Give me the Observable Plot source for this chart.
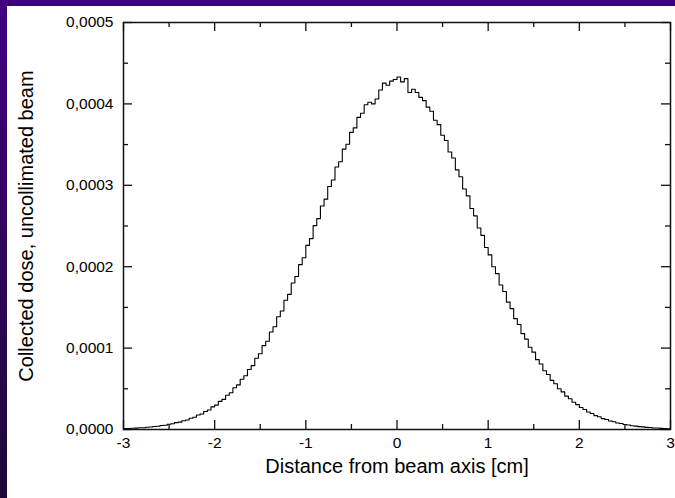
<!DOCTYPE html>
<html><head><meta charset="utf-8">
<script src="https://cdn.jsdelivr.net/npm/d3@7"></script>
<script src="https://cdn.jsdelivr.net/npm/@observablehq/plot@0.6"></script>
<style>
html,body{margin:0;padding:0;background:#fff;overflow:hidden;}
#wrap{position:relative;width:675px;height:498px;overflow:hidden;font-family:"Liberation Sans",Arial,sans-serif;background:#fff;}
#chart svg{display:block;}
#top{position:absolute;left:0;top:0;width:675px;height:6px;background:#3f007c;}
#left{position:absolute;left:0;top:0;width:7px;height:498px;background:linear-gradient(#42007f,#1c0838);}
</style></head><body>
<div id="wrap"><div id="chart"></div><div id="top"></div><div id="left"></div></div>
<script>
// histogram bins: start and width (cm)
const binStart = -3, binWidth = 0.04;
// collected dose per bin, in units of 1e-4
const doseE4 = [
0.011,0.012,0.015,0.017,0.021,0.022,0.028,0.030,0.037,0.040,
0.049,0.053,0.064,0.070,0.084,0.091,0.108,0.117,0.139,0.150,
0.178,0.190,0.222,0.240,0.278,0.300,0.345,0.370,0.420,0.452,
0.512,0.548,0.618,0.660,0.738,0.785,0.875,0.930,1.030,1.085,
1.198,1.262,1.385,1.455,1.588,1.660,1.800,1.880,2.025,2.110,
2.262,2.345,2.505,2.590,2.745,2.830,2.985,3.065,3.225,3.290,
3.445,3.505,3.650,3.705,3.835,3.885,3.990,4.020,4.000,4.060,
4.170,4.255,4.230,4.280,4.300,
4.330,4.270,4.310,4.140,4.180,4.140,4.080,4.040,3.960,3.910,
3.800,3.745,3.615,3.550,3.410,3.335,3.190,3.105,2.955,2.870,
2.715,2.625,2.475,2.385,2.235,2.145,2.000,1.915,1.775,1.695,
1.565,1.485,1.362,1.290,1.178,1.110,1.010,0.950,0.858,0.805,
0.722,0.675,0.604,0.562,0.500,0.462,0.410,0.378,0.334,0.306,
0.270,0.246,0.215,0.197,0.171,0.156,0.134,0.122,0.104,0.095,
0.080,0.073,0.061,0.056,0.046,0.042,0.035,0.032,0.026,0.024,
0.019,0.018,0.014,0.013,0.010
];
const xMajor = [-3,-2,-1,0,1,2,3];
const xTickLabels = ["-3","-2","-1","0","1","2","3"];
const xMinor = [-2.5,-1.5,-0.5,0.5,1.5,2.5];
const yMajor = [0,0.0001,0.0002,0.0003,0.0004,0.0005];
const yTickLabels = ["0,0000","0,0001","0,0002","0,0003","0,0004","0,0005"];
const yMinor = [0.00005,0.00015,0.00025,0.00035,0.00045];
const xTitle = "Distance from beam axis [cm]";
const yTitle = "Collected dose, uncollimated beam";

const data = doseE4.map((v,i)=>({x: binStart + i*binWidth, y: v*1e-4}));
data.push({x: binStart + doseE4.length*binWidth, y: doseE4[doseE4.length-1]*1e-4});

const W = 675, H = 498, mL = 123, mR = 5, mT = 22, mB = 69;
const pw = W - mL - mR, ph = H - mT - mB;
const maj = 9, min = 5;

const chart = Plot.plot({
  width: W, height: H,
  marginLeft: mL, marginRight: mR, marginTop: mT, marginBottom: mB,
  style: {background: "transparent", fontFamily: "'Liberation Sans', Arial, sans-serif", fontSize: "15.5px", color: "black", overflow: "visible"},
  x: {domain: [-3, 3]},
  y: {domain: [0, 0.0005]},
  marks: [
    Plot.line(data, {x: "x", y: "y", curve: "step-after", stroke: "black", strokeWidth: 1.1}),
    Plot.frame({stroke: "#111", strokeWidth: 1.5}),
    Plot.tickX(xMajor, {x: d => d, insetTop: ph - maj, stroke: "#111", strokeWidth: 1.3}),
    Plot.tickX(xMajor, {x: d => d, insetBottom: ph - maj, stroke: "#111", strokeWidth: 1.3}),
    Plot.tickX(xMinor, {x: d => d, insetTop: ph - min, stroke: "#111", strokeWidth: 1.3}),
    Plot.tickX(xMinor, {x: d => d, insetBottom: ph - min, stroke: "#111", strokeWidth: 1.3}),
    Plot.tickY(yMajor, {y: d => d, insetRight: pw - maj, stroke: "#111", strokeWidth: 1.3}),
    Plot.tickY(yMajor, {y: d => d, insetLeft: pw - maj, stroke: "#111", strokeWidth: 1.3}),
    Plot.tickY(yMinor, {y: d => d, insetRight: pw - min, stroke: "#111", strokeWidth: 1.3}),
    Plot.tickY(yMinor, {y: d => d, insetLeft: pw - min, stroke: "#111", strokeWidth: 1.3}),
    Plot.axisX({ticks: xMajor, tickSize: 0, tickPadding: 7, label: null, fontSize: 15.5,
      tickFormat: d => xTickLabels[xMajor.indexOf(d)]}),
    Plot.axisY({ticks: yMajor, tickSize: 0, tickPadding: 10, label: null, fontSize: 15.5,
      tickFormat: d => yTickLabels[yMajor.findIndex(v => Math.abs(v - d) < 1e-12)]}),
    Plot.text([xTitle], {text: d => d, frameAnchor: "bottom", lineAnchor: "middle", textAnchor: "middle", dy: 37, fontSize: 20}),
    Plot.text([yTitle], {text: d => d, frameAnchor: "left", lineAnchor: "middle", textAnchor: "middle", dx: -97, rotate: -90, fontSize: 20})
  ]
});
document.getElementById("chart").appendChild(chart);
</script>
</body></html>
